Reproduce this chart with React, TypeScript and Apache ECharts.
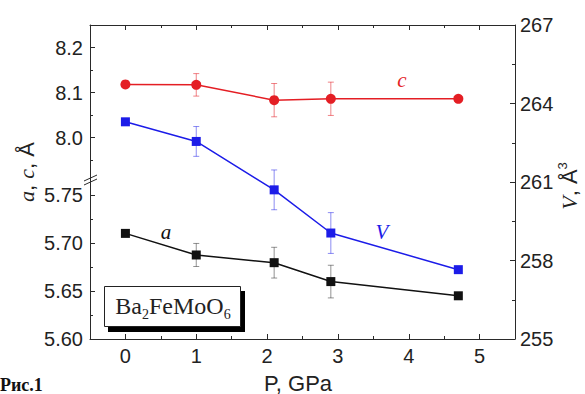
import React, { useEffect, useRef } from 'react';
import * as echarts from 'echarts';

// ---- data ----
const pressure = [0, 1.0, 2.1, 2.9, 4.7]; // P, GPa
const cValues = [8.118, 8.117, 8.083, 8.086, 8.086]; // c, Å
const cErrors = [0, 0.025, 0.037, 0.037, 0];
const vValues = [263.3, 262.55, 260.7, 259.05, 257.65]; // V, Å^3
const vErrors = [0, 0.57, 0.76, 0.78, 0];
const aValues = [5.71, 5.6875, 5.6795, 5.6598, 5.645]; // a, Å
const aErrors = [0, 0.012, 0.016, 0.017, 0];

// ---- tick labels ----
const xTicks = [0, 1, 2, 3, 4, 5];
const xMinorTicks = [0.5, 1.5, 2.5, 3.5, 4.5];
const vTicks = [255, 258, 261, 264, 267];
const vMinorTicks = [256.5, 259.5, 262.5, 265.5];
const cTicks = [8.0, 8.1, 8.2];
const cMinorTicks = [7.95, 8.05, 8.15];
const aTicks = [5.6, 5.65, 5.7, 5.75];
const aMinorTicks = [5.625, 5.675, 5.725];

const RED = '#e41e24';
const BLUE = '#1c1ce8';
const BLACK = '#111111';
const AXIS = '#2a2a2a';
const LABEL_FONT = { fontFamily: 'Liberation Sans', fontSize: 20, color: '#222' };

function points(vals: number[]) {
  return pressure.map((p, i) => [p, vals[i]]);
}
function errData(vals: number[], errs: number[]) {
  return pressure
    .map((p, i) => [p, vals[i] - errs[i], vals[i] + errs[i]])
    .filter((_, i) => errs[i] > 0);
}

function errorBars(data: number[][], color: string, xAxisIndex: number, yAxisIndex: number) {
  return {
    type: 'custom',
    coordinateSystem: 'cartesian2d',
    xAxisIndex,
    yAxisIndex,
    data,
    encode: { x: 0, y: [1, 2] },
    z: 1,
    silent: true,
    renderItem: (_params: any, api: any) => {
      const x = api.value(0);
      const lo = api.coord([x, api.value(1)]);
      const hi = api.coord([x, api.value(2)]);
      const w = 3;
      const style = { stroke: color, lineWidth: 1, fill: 'none' };
      return {
        type: 'group',
        children: [
          { type: 'line', shape: { x1: lo[0], y1: lo[1], x2: hi[0], y2: hi[1] }, style },
          { type: 'line', shape: { x1: lo[0] - w, y1: lo[1], x2: lo[0] + w, y2: lo[1] }, style },
          { type: 'line', shape: { x1: hi[0] - w, y1: hi[1], x2: hi[0] + w, y2: hi[1] }, style },
        ],
      };
    },
  };
}

function lineSeries(vals: number[], color: string, symbol: string, size: number, xAxisIndex: number, yAxisIndex: number) {
  return {
    type: 'line',
    data: points(vals),
    xAxisIndex,
    yAxisIndex,
    symbol,
    symbolSize: size,
    showAllSymbol: true,
    itemStyle: { color, borderWidth: 0 },
    lineStyle: { color, width: 1.5 },
    z: 3,
  };
}

const X_MIN = -0.5;
const X_MAX = 5.5;

function hiddenX(gridIndex: number) {
  return {
    type: 'value', gridIndex, min: X_MIN, max: X_MAX, show: false,
    splitLine: { show: false },
  };
}

function xAxisPair(gridIndex: number, position: string, showLabels: boolean) {
  const main = {
    type: 'value', gridIndex, position, min: X_MIN, max: X_MAX,
    axisLine: { show: true, onZero: false, lineStyle: { color: AXIS, width: 1 } },
    axisTick: { show: true, inside: true, length: 5, customValues: xTicks, lineStyle: { color: AXIS } },
    axisLabel: showLabels
      ? { show: true, customValues: xTicks, margin: 7, ...LABEL_FONT, formatter: (v: number) => String(v) }
      : { show: false },
    splitLine: { show: false },
  };
  const minor = {
    type: 'value', gridIndex, position, min: X_MIN, max: X_MAX,
    axisLine: { show: false, onZero: false },
    axisTick: { show: true, inside: true, length: 3, customValues: xMinorTicks, lineStyle: { color: AXIS } },
    axisLabel: { show: false },
    splitLine: { show: false },
  };
  return [main, minor];
}

function yAxisPair(gridIndex: number, position: string, min: number, max: number, ticks: number[], minor: number[], digits: number, margin: number) {
  const main = {
    type: 'value', gridIndex, position, min, max,
    axisLine: { show: true, onZero: false, lineStyle: { color: AXIS, width: 1 } },
    axisTick: { show: true, inside: true, length: 5, customValues: ticks, lineStyle: { color: AXIS } },
    axisLabel: { show: true, customValues: ticks, margin, ...LABEL_FONT, formatter: (v: number) => v.toFixed(digits) },
    splitLine: { show: false },
  };
  const sub = {
    type: 'value', gridIndex, position, min, max,
    axisLine: { show: false, onZero: false },
    axisTick: { show: true, inside: true, length: 3, customValues: minor, lineStyle: { color: AXIS } },
    axisLabel: { show: false },
    splitLine: { show: false },
  };
  return [main, sub];
}

export default function App() {
  const ref = useRef<HTMLDivElement>(null);
  useEffect(() => {
    if (!ref.current) return;
    const chart = echarts.init(ref.current, undefined, { renderer: 'svg' });
    const option: any = {
      animation: false,
      backgroundColor: '#ffffff',
      grid: [
        { left: 90, right: 70, top: 25, bottom: 55, containLabel: false },
        { left: 90, right: 70, top: 25, height: 157.5, containLabel: false },
        { left: 90, right: 70, top: 182.5, bottom: 55, containLabel: false },
      ],
      xAxis: [
        ...xAxisPair(0, 'bottom', true), // 0,1
        ...xAxisPair(0, 'top', false), // 2,3
        hiddenX(1), // 4
        hiddenX(2), // 5
      ],
      yAxis: [
        ...yAxisPair(0, 'right', 255, 267, vTicks, vMinorTicks, 0, 5), // 0,1
        ...yAxisPair(1, 'left', 7.9, 8.25, cTicks, cMinorTicks, 1, 7), // 2,3
        ...yAxisPair(2, 'left', 5.6, 5.763, aTicks, aMinorTicks, 2, 7), // 4,5
      ],
      series: [
        errorBars(errData(cValues, cErrors), 'rgba(228,30,36,0.55)', 4, 2),
        errorBars(errData(vValues, vErrors), 'rgba(28,28,232,0.5)', 0, 0),
        errorBars(errData(aValues, aErrors), 'rgba(40,40,40,0.5)', 5, 4),
        lineSeries(cValues, RED, 'circle', 10, 4, 2),
        lineSeries(vValues, BLUE, 'rect', 9, 0, 0),
        lineSeries(aValues, BLACK, 'rect', 9, 5, 4),
      ],
      graphic: [
        // axis break marks on left axis
        { type: 'line', shape: { x1: 84, y1: 181, x2: 97, y2: 175 }, style: { stroke: AXIS, lineWidth: 1 }, z: 10 },
        { type: 'line', shape: { x1: 84, y1: 185, x2: 97, y2: 179 }, style: { stroke: AXIS, lineWidth: 1 }, z: 10 },
        // left title
        {
          type: 'text', x: 26, y: 172, rotation: Math.PI / 2,
          style: {
            text: '{i|a}, {i|c}, Å',
            fontFamily: 'Liberation Sans', fontSize: 22, fill: '#222',
            align: 'center', verticalAlign: 'middle',
            rich: { i: { fontFamily: 'Liberation Serif', fontStyle: 'italic', fontSize: 22, fill: '#222' } },
          },
        },
        // right title
        {
          type: 'text', x: 569, y: 186, rotation: Math.PI / 2,
          style: {
            text: '{i|V}, Å{s|3}',
            fontFamily: 'Liberation Sans', fontSize: 22, fill: '#222', lineHeight: 26,
            align: 'center', verticalAlign: 'middle',
            rich: {
              i: { fontFamily: 'Liberation Serif', fontStyle: 'italic', fontSize: 22, fill: '#222', lineHeight: 26 },
              s: { fontFamily: 'Liberation Sans', fontSize: 13, fill: '#222', verticalAlign: 'top', lineHeight: 13 },
            },
          },
        },
        // x title
        {
          type: 'text', x: 298, y: 383,
          style: { text: 'P, GPa', fontFamily: 'Liberation Sans', fontSize: 22, fill: '#222', align: 'center', verticalAlign: 'middle' },
        },
        // series labels
        { type: 'text', x: 402, y: 80, style: { text: 'c', fontFamily: 'Liberation Serif', fontStyle: 'italic', fontSize: 21, fill: RED, align: 'center', verticalAlign: 'middle' } },
        { type: 'text', x: 382, y: 232, style: { text: 'V', fontFamily: 'Liberation Serif', fontStyle: 'italic', fontSize: 21, fill: BLUE, align: 'center', verticalAlign: 'middle' } },
        { type: 'text', x: 166, y: 232, style: { text: 'a', fontFamily: 'Liberation Serif', fontStyle: 'italic', fontSize: 21, fill: BLACK, align: 'center', verticalAlign: 'middle' } },
        // compound box with shadow
        { type: 'rect', shape: { x: 108, y: 291, width: 137, height: 41 }, style: { fill: '#000' }, z: 5 },
        { type: 'rect', shape: { x: 104.5, y: 286.5, width: 136, height: 40 }, style: { fill: '#fff', stroke: '#222', lineWidth: 1 }, z: 6 },
        {
          type: 'text', x: 173, y: 306, z: 7,
          style: {
            text: 'Ba{s|2}FeMoO{s|6}',
            fontFamily: 'Liberation Serif', fontSize: 24, fill: '#222', lineHeight: 30,
            align: 'center', verticalAlign: 'middle',
            rich: { s: { fontFamily: 'Liberation Serif', fontSize: 14, fill: '#222', verticalAlign: 'bottom', lineHeight: 14 } },
          },
        },
        // figure caption
        {
          type: 'text', x: 0, y: 376,
          style: { text: 'Рис.1', fontFamily: 'Liberation Serif', fontWeight: 'bold', fontSize: 18, fill: '#111', align: 'left', verticalAlign: 'top' },
        },
      ],
    };
    chart.setOption(option);
    return () => chart.dispose();
  }, []);
  return (
    <div
      ref={ref}
      style={{ position: 'fixed', left: 0, top: 0, width: 585, height: 394, background: '#fff' }}
    />
  );
}
